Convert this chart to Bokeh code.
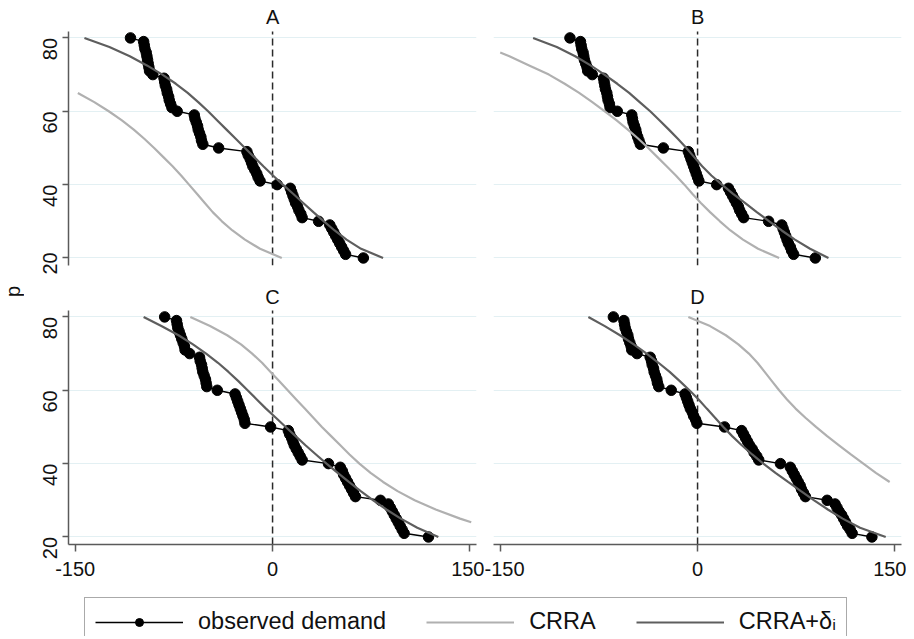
from bokeh.plotting import figure
from bokeh.models import Range1d, Label, Legend, LegendItem, ColumnDataSource, FixedTicker
from bokeh.layouts import column, row
from bokeh.embed import file_html
from bokeh.resources import INLINE
import math

# ---------------- data ----------------
price = [80,
         79, 78, 77, 76, 75, 74, 73, 72, 71, 70,
         69, 68, 67, 66, 65, 64, 63, 62, 61, 60,
         59, 58, 57, 56, 55, 54, 53, 52, 51, 50,
         49, 48, 47, 46, 45, 44, 43, 42, 41, 40,
         39, 38, 37, 36, 35, 34, 33, 32, 31, 30,
         29, 28, 27, 26, 25, 24, 23, 22, 21, 20]

obs_A = [-108,
         -98, -97.5, -97, -96, -95.5, -95, -94.5, -94, -93.5, -91,
         -82.5, -82, -81.5, -80.5, -80, -79, -78.5, -77.5, -76.5, -72.5,
         -59.5, -59, -58, -57, -56.5, -55.5, -54.5, -54, -53, -41,
         -19.5, -18.5, -17, -16, -15, -13.5, -12, -11, -9.5, 3.5,
         13.5, 14.5, 15.5, 16.5, 17.5, 19, 20, 21.5, 22.5, 35,
         43.5, 45, 46.5, 48, 49.5, 51, 52.5, 54, 55.5, 69]
obs_B = [-97,
         -89, -88.5, -88, -87, -86.5, -86, -85, -84, -83.5, -80,
         -71.5, -71, -70.5, -70, -69, -68.5, -68, -67, -66.5, -61,
         -50, -49.5, -49, -48, -47, -46.5, -45.5, -44.5, -43.5, -26,
         -7, -6, -5, -4, -3, -2, -1, 0, 1, 14.5,
         23.5, 25, 26.5, 28, 29.5, 31, 32, 33.5, 35, 54,
         64, 65, 66, 67, 68, 69, 70.5, 71.5, 73, 89.5]
obs_C = [-82,
         -73, -72.5, -72, -71, -70, -69, -68, -67, -66.5, -63,
         -55.5, -55, -54, -53.5, -53, -52, -51, -50.5, -50, -42,
         -28.5, -27.5, -26.5, -25.5, -24.5, -23.5, -22.5, -21.5, -21, -1.5,
         12, 13, 14.5, 15.5, 16.5, 18, 19.5, 21, 22.5, 42.5,
         51.5, 53, 54, 55.5, 57, 58.5, 60, 61.5, 63, 82,
         88, 89.5, 91, 92.5, 94, 95.5, 97, 98.5, 100, 118.5]
obs_D = [-64,
         -56, -55.5, -55, -54, -53, -52.5, -51.5, -50.5, -50, -46,
         -36, -35, -34.5, -33.5, -33, -32, -31, -30.5, -29.5, -20,
         -9.5, -8.5, -7.5, -6.5, -5.5, -4, -3, -1.5, -0.5, 20.5,
         33.5, 35, 36.5, 38, 39.5, 41.5, 43, 45, 46.5, 63,
         70.5, 72, 73.5, 75, 76.5, 78, 79, 80.5, 82, 98.5,
         104.5, 106, 107.5, 109.5, 111, 112.5, 114, 116, 117.5, 132.5]

# CRRA curves (light grey): price level and demand
crra_A_p = [65, 62.5, 60, 57.5, 55, 52.5, 50, 47.5, 45, 42.5, 40, 37.5, 35, 32.5, 30, 27.5, 25, 22.5, 20]
crra_A_x = [-148, -135.5, -124.5, -114.5, -105.5, -97.5, -90, -83, -76, -69.5, -63.5, -57.5, -51.5,
            -45.5, -38.5, -30.5, -21, -9.5, 7]
crra_B_p = [76, 75, 72.5, 70, 67.5, 65, 62.5, 60, 57.5, 55, 52.5, 50, 47.5, 45, 42.5, 40, 37.5, 35,
            32.5, 30, 27.5, 25, 22.5, 20]
crra_B_x = [-150, -143, -128, -113, -101, -90, -80, -70.5, -61.5, -53, -45, -37.5, -30.5, -23.5,
            -16.5, -10, -4, 2.5, 9.5, 17, 25, 34.5, 46, 62]
crra_C_p = [80, 77.5, 75, 72.5, 70, 67.5, 65, 62.5, 60, 57.5, 55, 52.5, 50, 47.5, 45, 42.5, 40,
            37.5, 35, 32.5, 30, 27.5, 25, 24]
crra_C_x = [-62.5, -47.5, -34.5, -24, -15.5, -8, -1.5, 5, 11.5, 18, 24.5, 31, 37.5, 44.5, 51.5, 58.5,
            66, 74.5, 84, 95, 108, 124, 142.5, 151]
crra_D_p = [80, 77.5, 75, 72.5, 70, 67.5, 65, 62.5, 60, 57.5, 55, 52.5, 50, 47.5, 45, 42.5, 40,
            37.5, 35]
crra_D_x = [-7, 9.5, 21.5, 31, 39, 45.5, 51, 56.5, 62, 68, 74.5, 82, 90, 98.5, 107.5, 116.5, 126,
            135.5, 146]

# CRRA + delta_i curves (dark grey)
crrad_p = [80, 77.5, 75, 72.5, 70, 67.5, 65, 62.5, 60, 57.5, 55, 52.5, 50, 47.5, 45, 42.5, 40,
           37.5, 35, 32.5, 30, 27.5, 25, 22.5, 20]
crrad_A_x = [-143, -124, -108.5, -95.5, -83.7, -73.5, -64.5, -56.5, -49, -42, -35, -28, -21, -14,
             -7, 0.3, 7.8, 15.6, 23.3, 31, 39, 47.2, 56.2, 67.3, 84]
crrad_B_x = [-125, -107, -93, -81.3, -70.8, -61, -52, -44, -36, -28.8, -21.8, -15, -8.5, -2.5, 3.5,
             10.5, 18.5, 27, 36, 45, 54.5, 64, 74, 85.5, 99.5]
crrad_C_x = [-98, -84.5, -71.5, -60.5, -50.5, -41.5, -33.5, -26, -19, -12, -5, 2.5, 10, 17.5, 25,
             33, 41, 49.5, 58, 67, 76.5, 86.5, 97.5, 110, 126]
crrad_D_x = [-83, -70.5, -59, -48.5, -38.7, -29.7, -21.2, -13.5, -6.2, 0.8, 7, 13.3, 19.6, 26.3,
             33.6, 41.5, 50, 59.2, 68.8, 78.6, 88.6, 99, 110.3, 123.5, 143]

x_ticks = [-150, 0, 150]
y_ticks = [20, 40, 60, 80]
panel_titles = ["A", "B", "C", "D"]
y_title = "p"
legend_labels = ["observed demand", "CRRA", "CRRA+δᵢ"]
ref_x = 0

# ---------------- style / geometry ----------------
FONT = "Liberation Sans"
C_OBS = "#000000"
C_CRRA = "#b0b0b0"
C_CRRAD = "#5e5e5e"
C_GRID = "#e3f0f3"
C_AXIS = "#5a5a5a"
C_TEXT = "#111111"
XR = (-155.1, 155.0)          # plot region in x
YR = (17.95, 81.75)           # plot region in p (axis, dashed line)
PXU = 234 / (YR[1] - YR[0])   # pixels per price unit
P_W, L_W, L_MBL, L_MBR = 24, 460, 44, 8
R_W, R_MBL, R_MBR = 422, 9, 5
TOP_FRAME_H, TOP_MBB = 265, 9      # frame includes the title band above the plot region
BOT_FRAME_H, BOT_MBB = 270, 50
TITLE_GAP_TOP = 265 - 16.7          # title centre, pixels above the bottom of the plot region
TITLE_GAP_BOT = 544 - 296


def panel(title, ox, lx, lp, dx, dp, width, mbl, mbr, frame_h, mbb, title_gap, show_x, show_y):
    y_top = YR[0] + frame_h / PXU
    p = figure(width=width, height=frame_h + mbb, x_range=Range1d(*XR), y_range=Range1d(YR[0], y_top),
               output_backend="svg", toolbar_location=None,
               x_axis_location="below" if show_x else None,
               y_axis_location="left" if show_y else None,
               min_border_left=mbl, min_border_right=mbr,
               min_border_top=0, min_border_bottom=mbb)
    p.outline_line_color = None
    p.xgrid.visible = False
    p.ygrid.ticker = FixedTicker(ticks=y_ticks)
    p.ygrid.grid_line_color = C_GRID
    p.ygrid.grid_line_width = 1.2
    if show_x:
        ax = p.xaxis[0]
        ax.ticker = FixedTicker(ticks=x_ticks)
        ax.major_label_overrides = {t: str(t) for t in x_ticks}
        ax.major_label_text_font = FONT
        ax.major_label_text_font_size = "20px"
        ax.major_label_text_color = C_TEXT
        ax.axis_line_color = C_AXIS
        ax.axis_line_width = 1.5
        ax.major_tick_line_color = C_AXIS
        ax.major_tick_line_width = 1.5
        ax.major_tick_out = 7
        ax.major_tick_in = 0
        ax.minor_tick_line_color = None
        ax.major_label_standoff = 10
    if show_y:
        ay = p.yaxis[0]
        ay.bounds = YR
        ay.ticker = FixedTicker(ticks=y_ticks)
        ay.major_label_text_font = FONT
        ay.major_label_text_font_size = "20px"
        ay.major_label_text_color = C_TEXT
        ay.major_label_orientation = math.pi / 2
        ay.axis_line_color = C_AXIS
        ay.axis_line_width = 1.5
        ay.major_tick_line_color = C_AXIS
        ay.major_tick_line_width = 1.5
        ay.major_tick_out = 6
        ay.major_tick_in = 0
        ay.minor_tick_line_color = None
        ay.major_label_standoff = 12

    # vertical reference line at x = 0 over the plot region
    p.segment(x0=[ref_x], y0=[YR[0]], x1=[ref_x], y1=[YR[1]], line_color="#2a2a2a",
              line_width=1.5, line_dash="7 4")

    src = ColumnDataSource(dict(x=ox, y=price))
    p.line("x", "y", source=src, line_color=C_OBS, line_width=1.4)
    p.scatter("x", "y", source=src, size=10.5, fill_color=C_OBS, line_color=C_OBS)
    p.line(lx, lp, line_color=C_CRRA, line_width=2.2)
    p.line(dx, dp, line_color=C_CRRAD, line_width=2.2)

    p.add_layout(Label(x=0, y=YR[0] + title_gap / PXU, text=title, text_align="center",
                       text_baseline="middle", text_font=FONT, text_font_size="20px",
                       text_color=C_TEXT))
    return p


pA = panel(panel_titles[0], obs_A, crra_A_x, crra_A_p, crrad_A_x, crrad_p,
           L_W, L_MBL, L_MBR, TOP_FRAME_H, TOP_MBB, TITLE_GAP_TOP, False, True)
pB = panel(panel_titles[1], obs_B, crra_B_x, crra_B_p, crrad_B_x, crrad_p,
           R_W, R_MBL, R_MBR, TOP_FRAME_H, TOP_MBB, TITLE_GAP_TOP, False, False)
pC = panel(panel_titles[2], obs_C, crra_C_x, crra_C_p, crrad_C_x, crrad_p,
           L_W, L_MBL, L_MBR, BOT_FRAME_H, BOT_MBB, TITLE_GAP_BOT, True, True)
pD = panel(panel_titles[3], obs_D, crra_D_x, crra_D_p, crrad_D_x, crrad_p,
           R_W, R_MBL, R_MBR, BOT_FRAME_H, BOT_MBB, TITLE_GAP_BOT, True, False)

# shared y title "p" in a narrow strip at the left
grid_h = TOP_FRAME_H + TOP_MBB + BOT_FRAME_H + BOT_MBB
pf = figure(width=P_W, height=grid_h, x_range=Range1d(0, P_W), y_range=Range1d(0, grid_h),
            output_backend="svg", toolbar_location=None,
            x_axis_location=None, y_axis_location=None,
            min_border_left=0, min_border_right=0, min_border_top=0, min_border_bottom=0)
pf.outline_line_color = None
pf.grid.visible = False
pf.add_layout(Label(x=12, y=grid_h - 291, text=y_title, angle=math.pi / 2, text_align="center",
                    text_baseline="middle", text_font=FONT, text_font_size="20px",
                    text_color=C_TEXT))

# ---------------- legend ----------------
lf = figure(width=P_W + L_W + R_W, height=42, x_range=Range1d(1000, 1001),
            y_range=Range1d(1000, 1001),
            output_backend="svg", toolbar_location=None,
            x_axis_location=None, y_axis_location=None,
            min_border_left=81, min_border_right=0, min_border_top=0, min_border_bottom=0)
lf.outline_line_color = None
lf.grid.visible = False
lsrc = ColumnDataSource(dict(x=obs_A, y=price))
r_obs_l = lf.line("x", "y", source=lsrc, line_color=C_OBS, line_width=1.5)
r_obs_s = lf.scatter("x", "y", source=lsrc, size=10, fill_color=C_OBS, line_color=C_OBS)
r_crra = lf.line(crra_A_x, crra_A_p, line_color=C_CRRA, line_width=2.2)
r_crrad = lf.line(crrad_A_x, crrad_p, line_color=C_CRRAD, line_width=2.2)
legend = Legend(items=[LegendItem(label=legend_labels[0], renderers=[r_obs_l, r_obs_s]),
                       LegendItem(label=legend_labels[1], renderers=[r_crra]),
                       LegendItem(label=legend_labels[2], renderers=[r_crrad])],
                orientation="horizontal", location="top_left", margin=3, padding=10,
                spacing=40, glyph_width=88, glyph_height=20, label_standoff=15,
                label_text_font=FONT, label_text_font_size="23.5px",
                label_text_color=C_TEXT,
                border_line_color="#555555", border_line_width=1.5,
                background_fill_color="white", background_fill_alpha=1.0)
lf.add_layout(legend)

layout = column(row(pf, column(row(pA, pB), row(pC, pD))), lf)
open("out.html", "w").write(file_html(layout, INLINE))
